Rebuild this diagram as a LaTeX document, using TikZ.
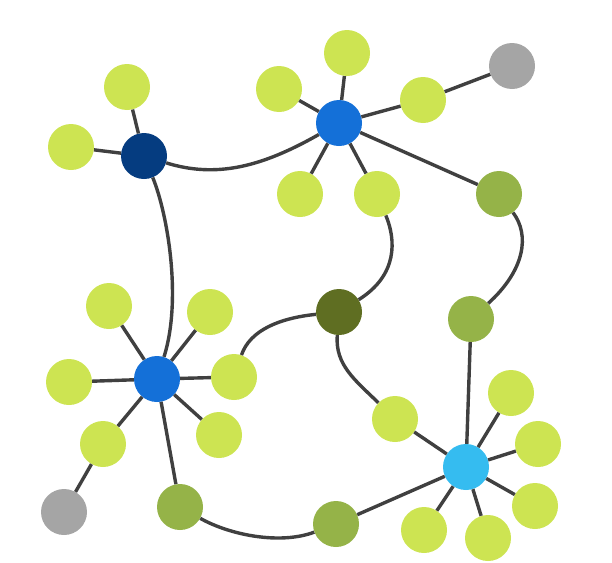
\documentclass[tikz,border=0pt]{standalone}
\usetikzlibrary{positioning}
\definecolor{leafgreen}{HTML}{CDE452}
\definecolor{olive}{HTML}{95B348}
\definecolor{darkolive}{HTML}{5F6E22}
\definecolor{navy}{HTML}{053C80}
\definecolor{hubblue}{HTML}{1470D8}
\definecolor{skyblue}{HTML}{35BCF0}
\definecolor{greydot}{HTML}{A5A5A5}
\definecolor{wire}{HTML}{404040}
\tikzset{
  x=1pt,
  y=-1pt,
  % styles
  dot/.style={
    circle,
    inner sep=0pt,
    minimum size=46pt,
  },
  leaf/.style={dot, fill=leafgreen},
  link/.style={dot, fill=olive},
  hub/.style={dot, fill=hubblue},
  end/.style={dot, fill=greydot},
  every edge/.style={draw=wire, line width=3.4pt},
}

\begin{document}
\begin{tikzpicture}
  \useasboundingbox (0,0) rectangle (612,562);

  % hubs
  \node [dot, fill=navy]      (n)  at (144,156) {};
  \node [hub]                 (h1) at (339,123) {};
  \node [hub]                 (h2) at (157,379) {};
  \node [dot, fill=skyblue]   (h3) at (466,467) {};
  \node [dot, fill=darkolive] (m)  at (339,312) {};

  % leaves
  \node [leaf] (a1) at (127,87)  {};
  \node [leaf] (a2) at (71,147)  {};
  \node [leaf] (b1) at (347,53)  {};
  \node [leaf] (b2) at (279,89)  {};
  \node [leaf] (b3) at (423,100) {};
  \node [leaf] (b4) at (300,194) {};
  \node [leaf] (b5) at (377,194) {};
  \node [leaf] (c1) at (109,306) {};
  \node [leaf] (c2) at (210,312) {};
  \node [leaf] (c3) at (69,382)  {};
  \node [leaf] (c4) at (234,377) {};
  \node [leaf] (c5) at (103,444) {};
  \node [leaf] (c6) at (219,435) {};
  \node [leaf] (d1) at (511,393) {};
  \node [leaf] (d2) at (538,444) {};
  \node [leaf] (d3) at (535,506) {};
  \node [leaf] (d4) at (488,538) {};
  \node [leaf] (d5) at (424,530) {};
  \node [leaf] (d6) at (395,419) {};

  % links and ends
  \node [link] (o1) at (499,194) {};
  \node [link] (o2) at (471,319) {};
  \node [link] (o3) at (180,507) {};
  \node [link] (o4) at (336,524) {};
  \node [end]  (g1) at (512,66)  {};
  \node [end]  (g2) at (64,512)  {};

  % straight edges
  \path (n)  edge (a1) edge (a2);
  \path (h1) edge (b1) edge (b2) edge (b3) edge (b4) edge (b5) edge (o1);
  \path (b3) edge (g1);
  \path (h2) edge (c1) edge (c2) edge (c3) edge (c4) edge (c5) edge (c6) edge (o3);
  \path (c5) edge (g2);
  \path (h3) edge (d1) edge (d2) edge (d3) edge (d4) edge (d5) edge (d6)
             edge (o2) edge (o4);

  % curved edges
  \draw [wire, line width=3.4pt]
    (n)  .. controls (215,178) and (260,168) .. (h1)
    (n)  .. controls (168,215) and (182,300) .. (h2)
    (b5) .. controls (396,240) and (398,275) .. (m)
    (o1) .. controls (530,235) and (525,270) .. (o2)
    (m)  .. controls (280,318) and (250,330) .. (c4)
    (m)  .. controls (335,365) and (355,380) .. (d6)
    (o3) .. controls (230,535) and (280,545) .. (o4);
\end{tikzpicture}
\end{document}
